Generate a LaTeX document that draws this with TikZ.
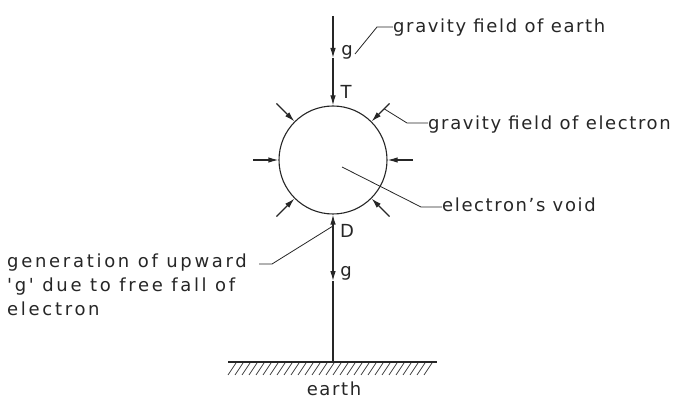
\documentclass[tikz,border=0pt]{standalone}
\usepackage{fontspec}
\setmainfont[LetterSpace=9]{DejaVu Sans}
\newfontfamily\genfont[LetterSpace=15]{DejaVu Sans}
\usetikzlibrary{arrows.meta,calc}
\begin{document}
\begin{tikzpicture}[x=1pt,y=-1pt,
  ln/.style={line width=1.1pt,draw=black!85},
  arr/.style={ln,-{Latex[length=10pt,width=5.5pt]}},
  lbl/.style={font=\fontsize{18}{24}\selectfont,inner sep=0pt,text=black!85},
  hatch/.style={line width=0.8pt,draw=black!75}]
\useasboundingbox (0,0) rectangle (682,403);
% void
\node[circle,ln,minimum size=108pt,inner sep=0pt] (void) at (333,160) {};
% vertical line from the top
\coordinate (top) at (333,16);
\coordinate (g1) at (333,58);
\draw[arr] (top) -- (g1);
\draw[arr] (g1) -- (void.north);
% vertical line to the earth
\coordinate (ground) at (333,362);
\coordinate (dmid) at (333,245);
\coordinate (g2) at (333,281);
\draw[arr] (dmid) -- (void.south);
\draw[arr] (dmid) -- (g2);
\draw[ln] (g2) -- (ground);
% field arrows
\foreach \a in {0,45,135,180,225,315}{
  \coordinate (f\a) at ($(void.center)+(-\a:80pt)$);
  \draw[arr] (f\a) -- (void.-\a);
}
% labels on the axis
\node[lbl] (gtop) at (347,52) {g};
\node[lbl] (T) at (346,92) {T};
\node[lbl] (D) at (347,231) {D};
\node[lbl] (gbot) at (346,273) {g};
% earth
\coordinate (gl) at (228,362);
\coordinate (gr) at (437,362);
\draw[ln] (gl) -- (gr);
\foreach \x in {228,235,...,428}{
  \draw[hatch] (\x,375) -- (\x+8,363);
}
\node[lbl,anchor=base] (earth) at (334,395) {earth};
% text labels
\node[lbl,anchor=base west] (tEarth) at (393,33) {gravity field of earth};
\node[lbl,anchor=base west] (tElec) at (428,130) {gravity field of electron};
\node[lbl,anchor=base west] (tVoid) at (442,212) {electron's void};
\node[lbl,anchor=north west,align=left,font=\genfont\fontsize{18}{24}\selectfont] (tGen) at (7,254)
  {generation of upward\\'g' due to free fall of\\electron};
% leaders
\coordinate (l1a) at (355,54);
\draw[ln,line width=0.8pt] (l1a) -- (377,27) -- (tEarth.west |- 0,27);
\coordinate (l2a) at ($(f315)!0.3!(void.45)$);
\draw[ln,line width=0.8pt] (l2a) -- (407,123) -- (tElec.west |- 0,123);
\coordinate (l3a) at (342,167);
\draw[ln,line width=0.8pt] (l3a) -- (421,207) -- (tVoid.west |- 0,207);
\coordinate (l4a) at (333,226);
\draw[ln,line width=0.8pt] (l4a) -- (272,264) -- (259,264);
\end{tikzpicture}
\end{document}
